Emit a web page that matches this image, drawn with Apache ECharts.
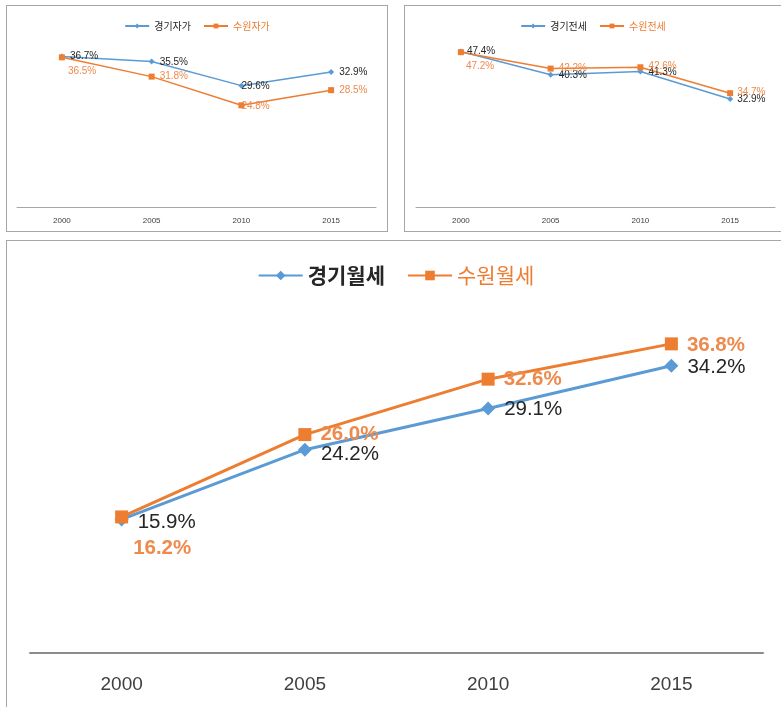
<!DOCTYPE html>
<html>
<head>
<meta charset="utf-8">
<script src="https://cdn.jsdelivr.net/npm/echarts@6/dist/echarts.min.js"></script>
<style>
  html, body { margin: 0; padding: 0; background: #fff; overflow: hidden; width: 781px; height: 707px; }
  .box { position: absolute; border: 1px solid #a6a6a6; background: #fff; }
  .box > div { width: 100%; height: 100%; }
</style>
</head>
<body>
<div class="box" style="left:6px;top:5px;width:380px;height:225px;"><div id="own"></div></div>
<div class="box" style="left:404px;top:5px;width:376px;height:225px;"><div id="jeonse"></div></div>
<div class="box" style="left:6px;top:240px;width:778px;height:480px;"><div id="wolse"></div></div>
<script>
// 연도
const years = ["2000", "2005", "2010", "2015"];
// 자가 비율 (%)
const gyeonggiOwn = [36.7, 35.5, 29.6, 32.9];
const suwonOwn = [36.5, 31.8, 24.8, 28.5];
// 전세 비율 (%)
const gyeonggiJeonse = [47.4, 40.3, 41.3, 32.9];
const suwonJeonse = [47.2, 42.2, 42.6, 34.7];
// 월세 비율 (%)
const gyeonggiWolse = [15.9, 24.2, 29.1, 34.2];
const suwonWolse = [16.2, 26.0, 32.6, 36.8];

const BLUE = "#5b9bd5";
const ORANGE = "#ed7d31";
const DARK = "#262626";
const ORANGE_TXT = "#ee8a4c";
const NUM_FONT = "'Liberation Sans', Arial, sans-serif";
const KR_FONT = "'Noto Sans CJK KR', sans-serif";

// label offsets per point (style only)
const offOwnG = [[0, 0], [0, 1], [-8, 1], [0, 0]];
const offOwnS = [[-2, 14], [0, 0], [-8, 1], [0, 0]];
const offJeoG = [[-2, 0], [0, 0], [0, 1], [-1, 0]];
const offJeoS = [[-3, 14], [0, 0], [0, -1], [-1, -1]];
const offWolG = [[4, 3], [4, 5], [4, 1], [4, 2]];
const offWolS = [[0, 31], [4, 0], [4, 0], [4, 1]];

function points(values, offsets) {
  return values.map((v, i) => ({ value: v, label: { offset: offsets[i] } }));
}

function makeOption(cfg) {
  const big = cfg.big;
  return {
    animation: false,
    legend: {
      top: cfg.legendTop,
      left: "center",
      itemWidth: cfg.itemWidth,
      itemHeight: cfg.itemHeight,
      itemGap: cfg.itemGap,
      textStyle: { fontFamily: KR_FONT, fontSize: cfg.legendSize, fontWeight: big ? "bold" : "normal" },
      data: [
        { name: cfg.names[0], textStyle: { color: DARK } },
        { name: cfg.names[1], textStyle: { color: ORANGE, fontWeight: "normal" } }
      ]
    },
    grid: cfg.grid,
    xAxis: {
      type: "category",
      data: years,
      boundaryGap: true,
      axisLine: { lineStyle: { color: big ? "#8c8c8c" : "#a6a6a6", width: big ? 2 : 1 } },
      axisTick: { show: false },
      axisLabel: { color: "#404040", fontSize: cfg.axisSize, fontFamily: NUM_FONT, margin: cfg.axisMargin }
    },
    yAxis: {
      type: "value",
      min: 0,
      max: cfg.max,
      show: false,
      splitLine: { show: false }
    },
    series: [
      {
        name: cfg.names[0],
        type: "line",
        data: points(cfg.a, cfg.offA),
        symbol: "diamond",
        symbolSize: cfg.symA,
        color: BLUE,
        lineStyle: { width: cfg.lineW, color: BLUE },
        label: {
          show: true, position: "right", distance: 5,
          formatter: p => p.value.toFixed(1) + "%",
          color: DARK, fontSize: cfg.labelSize, fontFamily: NUM_FONT
        }
      },
      {
        name: cfg.names[1],
        type: "line",
        data: points(cfg.b, cfg.offB),
        symbol: "rect",
        symbolSize: cfg.symB,
        color: ORANGE,
        lineStyle: { width: cfg.lineW, color: ORANGE },
        label: {
          show: true, position: "right", distance: 5,
          formatter: p => p.value.toFixed(1) + "%",
          color: ORANGE_TXT, fontSize: cfg.labelSize, fontFamily: NUM_FONT,
          fontWeight: big ? "bold" : "normal"
        }
      }
    ]
  };
}

const small = {
  big: false, legendTop: 10, itemWidth: 24, itemHeight: 6, itemGap: 12, legendSize: 10,
  axisSize: 8, axisMargin: 10, labelSize: 10, lineW: 1.5, symA: 6, symB: 6
};

echarts.init(document.getElementById("own")).setOption(makeOption(Object.assign({}, small, {
  names: ["경기자가", "수원자가"], max: 40,
  grid: { left: 10, top: 37, width: 359, height: 164 },
  a: gyeonggiOwn, b: suwonOwn, offA: offOwnG, offB: offOwnS
})));

echarts.init(document.getElementById("jeonse")).setOption(makeOption(Object.assign({}, small, {
  names: ["경기전세", "수원전세"], max: 50,
  grid: { left: 11, top: 37, width: 359, height: 164 },
  a: gyeonggiJeonse, b: suwonJeonse, offA: offJeoG, offB: offJeoS
})));

echarts.init(document.getElementById("wolse")).setOption(makeOption({
  big: true, legendTop: 19, itemWidth: 44, itemHeight: 12, itemGap: 22, legendSize: 21,
  axisSize: 19, axisMargin: 22, labelSize: 20.5, lineW: 3, symA: 14, symB: 13,
  names: ["경기월세", "수원월세"], max: 40,
  grid: { left: 23, top: 76, width: 733, height: 336 },
  a: gyeonggiWolse, b: suwonWolse, offA: offWolG, offB: offWolS
}));
</script>
</body>
</html>
